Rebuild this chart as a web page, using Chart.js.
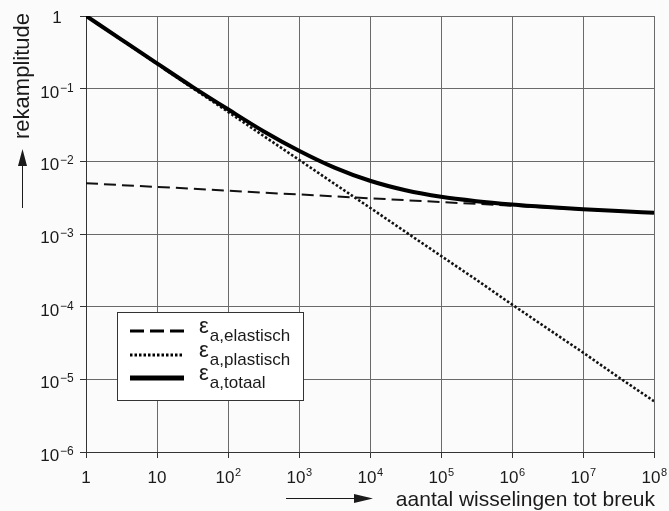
<!DOCTYPE html>
<html>
<head>
<meta charset="utf-8">
<script src="https://cdn.jsdelivr.net/npm/chart.js@4.4.1/dist/chart.umd.min.js"></script>
<style>
  html, body { margin: 0; padding: 0; background: #fbfbfb; }
  #wrap { width: 669px; height: 511px; }
</style>
</head>
<body>
<div id="wrap"><canvas id="grafiek" width="669" height="511"></canvas></div>
<script>
const wisselingen = [1, 3.16, 10, 31.6, 100, 316, 1e3, 3162, 1e4, 3.16e4, 1e5, 3.16e5, 1e6, 3.16e6, 1e7, 3.16e7, 1e8];
const rekElastisch = [5.0e-3, 4.7e-3, 4.45e-3, 4.2e-3, 3.95e-3, 3.7e-3, 3.5e-3, 3.3e-3, 3.1e-3, 2.92e-3, 2.75e-3, 2.6e-3, 2.45e-3, 2.3e-3, 2.17e-3, 2.06e-3, 1.96e-3];
const rekPlastisch = [1.0, 0.468, 0.219, 0.102, 0.048, 0.0224, 0.0105, 4.9e-3, 2.3e-3, 1.07e-3, 5.0e-4, 2.34e-4, 1.07e-4, 5.0e-5, 2.34e-5, 1.07e-5, 5.0e-6];
const rekTotaal = [1.005, 0.473, 0.223, 0.106, 0.052, 0.026, 0.014, 8.2e-3, 5.4e-3, 4.0e-3, 3.25e-3, 2.83e-3, 2.55e-3, 2.35e-3, 2.19e-3, 2.07e-3, 1.96e-3];

// assen
const xTicks = [1, 10, 1e2, 1e3, 1e4, 1e5, 1e6, 1e7, 1e8];
const xTickBase = ['1', '10', '10', '10', '10', '10', '10', '10', '10'];
const xTickExp = ['', '', '2', '3', '4', '5', '6', '7', '8'];
const yTicks = [1e-6, 1e-5, 1e-4, 1e-3, 1e-2, 1e-1, 1];
const yTickBase = ['10', '10', '10', '10', '10', '10', '1'];
const yTickExp = ['\u22126', '\u22125', '\u22124', '\u22123', '\u22122', '\u22121', ''];

const legendaLabels = ['a,elastisch', 'a,plastisch', 'a,totaal'];
const titelX = 'aantal wisselingen tot breuk';
const titelY = 'rekamplitude';

function punten(ys) {
    return wisselingen.map(function(n, i) { return { x: n, y: ys[i] }; });
}

const FONT = '"Liberation Sans", Arial, sans-serif';
const TEKST = '#1a1a1a';

// tekenen van tick labels, titels met pijlen en de legenda
const extraPlugin = {
    id: 'extra',
    afterDraw(chart) {
        const ctx = chart.ctx;
        const xs = chart.scales.x, ys = chart.scales.y;
        ctx.save();
        ctx.fillStyle = TEKST;
        ctx.strokeStyle = TEKST;
        ctx.textBaseline = 'alphabetic';
        ctx.textAlign = 'left';

        // x tick labels
        xTicks.forEach(function(v, i) {
            const px = xs.getPixelForValue(v);
            ctx.font = '17px ' + FONT;
            const wb = ctx.measureText(xTickBase[i]).width;
            const x0 = px - wb / 2 - 3 * (xTickExp[i] ? 1 : 0);
            ctx.fillText(xTickBase[i], x0, 483);
            if (xTickExp[i]) {
                ctx.font = '11px ' + FONT;
                ctx.fillText(xTickExp[i], x0 + wb + 0.5, 476);
            }
        });

        // y tick labels (gecentreerd rond x = 57)
        yTicks.forEach(function(v, i) {
            const py = ys.getPixelForValue(v);
            ctx.font = '17px ' + FONT;
            const wb = ctx.measureText(yTickBase[i]).width;
            let we = 0;
            if (yTickExp[i]) {
                ctx.font = '12px ' + FONT;
                we = ctx.measureText(yTickExp[i]).width + 1;
            }
            const x0 = 57 - (wb + we) / 2;
            ctx.font = '17px ' + FONT;
            ctx.fillText(yTickBase[i], x0, py + (yTickExp[i] ? 9 : 7));
            if (yTickExp[i]) {
                ctx.font = '12px ' + FONT;
                ctx.fillText(yTickExp[i], x0 + wb + 1, py + 3);
            }
        });

        // y titel + pijl omhoog
        ctx.save();
        ctx.translate(28.5, 13);
        ctx.rotate(-Math.PI / 2);
        ctx.font = '22px ' + FONT;
        ctx.textAlign = 'right';
        ctx.fillText(titelY, 0, 0);
        ctx.restore();
        ctx.lineWidth = 1;
        ctx.beginPath();
        ctx.moveTo(22.5, 208);
        ctx.lineTo(22.5, 160);
        ctx.stroke();
        ctx.beginPath();
        ctx.moveTo(22.5, 149);
        ctx.lineTo(18, 166);
        ctx.lineTo(27, 166);
        ctx.closePath();
        ctx.fill();

        // x titel + pijl naar rechts
        ctx.font = '21px ' + FONT;
        ctx.textAlign = 'right';
        ctx.fillText(titelX, 655, 506);
        ctx.beginPath();
        ctx.moveTo(286, 498.5);
        ctx.lineTo(358, 498.5);
        ctx.stroke();
        ctx.beginPath();
        ctx.moveTo(373, 498.5);
        ctx.lineTo(354, 494);
        ctx.lineTo(354, 503);
        ctx.closePath();
        ctx.fill();

        // legenda
        ctx.fillStyle = '#ffffff';
        ctx.fillRect(117, 312, 186, 88);
        ctx.lineWidth = 1;
        ctx.strokeStyle = '#333';
        ctx.strokeRect(117.5, 312.5, 186, 88);
        const rijen = [331, 355, 378];
        const lijnDikte = [3, 3, 5];
        const lijnDash = [[14, 6], [2.5, 2], []];
        chart.data.datasets.forEach(function(ds, i) {
            const y = rijen[i];
            ctx.strokeStyle = '#000';
            ctx.lineWidth = lijnDikte[i];
            ctx.setLineDash(lijnDash[i]);
            ctx.beginPath();
            ctx.moveTo(130, y);
            ctx.lineTo(184, y);
            ctx.stroke();
            ctx.setLineDash([]);
            ctx.fillStyle = TEKST;
            ctx.textAlign = 'left';
            ctx.font = '22px ' + FONT;
            ctx.fillText('\u03b5', 199, y + 2);
            const we = ctx.measureText('\u03b5').width;
            ctx.font = '17px ' + FONT;
            ctx.fillText(legendaLabels[i], 199 + we + 1, y + 10);
        });
        ctx.restore();
    }
};

const ctx = document.getElementById('grafiek').getContext('2d');

new Chart(ctx, {
    type: 'line',
    data: {
        datasets: [{
            label: 'elastisch',
            data: punten(rekElastisch),
            borderColor: '#111',
            borderWidth: 2,
            borderDash: [12, 6],
            pointRadius: 0,
            order: 2
        }, {
            label: 'plastisch',
            data: punten(rekPlastisch),
            borderColor: '#111',
            borderWidth: 2.6,
            borderDash: [2.5, 2],
            pointRadius: 0,
            order: 3
        }, {
            label: 'totaal',
            data: punten(rekTotaal),
            borderColor: '#000',
            borderWidth: 4,
            pointRadius: 0,
            cubicInterpolationMode: 'monotone',
            order: 1
        }]
    },
    options: {
        responsive: false,
        animation: false,
        events: [],
        layout: {
            padding: { top: 16, right: 15, left: 0, bottom: 0 }
        },
        plugins: {
            legend: { display: false },
            tooltip: { enabled: false }
        },
        scales: {
            x: {
                type: 'logarithmic',
                min: 1,
                max: 1e8,
                afterBuildTicks: function(s) { s.ticks = xTicks.map(function(v) { return { value: v }; }); },
                afterFit: function(s) { s.height = 59; },
                ticks: { display: false },
                grid: { color: '#6a6a6a', lineWidth: 1, tickLength: 6, tickColor: '#333' },
                border: { color: '#333' }
            },
            y: {
                type: 'logarithmic',
                min: 1e-6,
                max: 1,
                afterBuildTicks: function(s) { s.ticks = yTicks.map(function(v) { return { value: v }; }); },
                afterFit: function(s) { s.width = 86; },
                ticks: { display: false },
                grid: { color: '#6a6a6a', lineWidth: 1, tickLength: 6, tickColor: '#333' },
                border: { color: '#333' }
            }
        }
    },
    plugins: [extraPlugin]
});
</script>
</body>
</html>
